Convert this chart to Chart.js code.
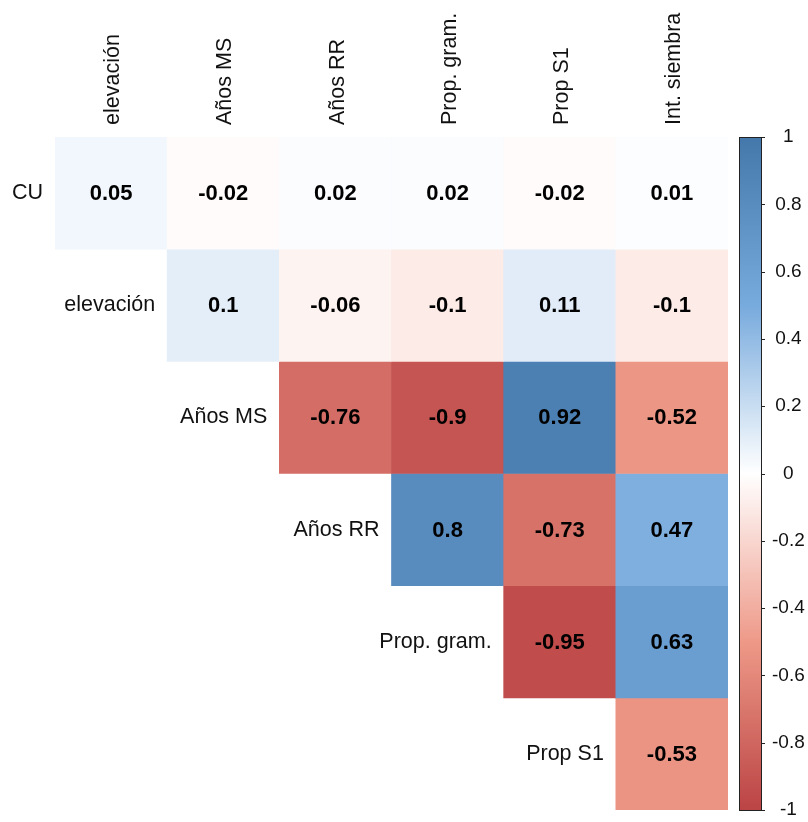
<!DOCTYPE html>
<html>
<head>
<meta charset="utf-8">
<script src="https://cdn.jsdelivr.net/npm/chart.js@4.4.1/dist/chart.umd.min.js"></script>
<style>
  html, body { margin: 0; padding: 0; background: #fff; }
  #wrap { width: 808px; height: 822px; position: relative; }
</style>
</head>
<body>
<div id="wrap"><canvas id="corrChart"></canvas></div>
<script>
// variables
const colLabels = ['elevación', 'Años MS', 'Años RR', 'Prop. gram.', 'Prop S1', 'Int. siembra'];
const rowLabels = ['CU', 'elevación', 'Años MS', 'Años RR', 'Prop. gram.', 'Prop S1'];

// upper triangle, one array per row (null = empty cell)
const rowCU         = [0.05, -0.02, 0.02, 0.02, -0.02, 0.01];
const rowElevacion  = [null, 0.1, -0.06, -0.1, 0.11, -0.1];
const rowAniosMS    = [null, null, -0.76, -0.9, 0.92, -0.52];
const rowAniosRR    = [null, null, null, 0.8, -0.73, 0.47];
const rowPropGram   = [null, null, null, null, -0.95, 0.63];
const rowPropS1     = [null, null, null, null, null, -0.53];
const rows = [rowCU, rowElevacion, rowAniosMS, rowAniosRR, rowPropGram, rowPropS1];

// colour scale
const colorStops = [-1, -0.5, 0, 0.5, 1];
const colorHex = ['#BB4444', '#EE9988', '#FFFFFF', '#77AADD', '#4477AA'];
const barTicks = [-1, -0.8, -0.6, -0.4, -0.2, 0, 0.2, 0.4, 0.6, 0.8, 1];

function hexToRgb(h) {
    return [parseInt(h.slice(1, 3), 16), parseInt(h.slice(3, 5), 16), parseInt(h.slice(5, 7), 16)];
}

function corrColor(v) {
    for (let k = 0; k < colorStops.length - 1; k++) {
        if (v <= colorStops[k + 1]) {
            const t = (v - colorStops[k]) / (colorStops[k + 1] - colorStops[k]);
            const a = hexToRgb(colorHex[k]), b = hexToRgb(colorHex[k + 1]);
            const c = a.map((x, i) => Math.round(x + (b[i] - x) * t));
            return `rgb(${c[0]}, ${c[1]}, ${c[2]})`;
        }
    }
    return colorHex[colorHex.length - 1];
}

const datasets = rows.map((vals, i) => ({
    label: rowLabels[i],
    data: vals.map(v => v === null ? null : [i, i + 1]),
    backgroundColor: vals.map(v => v === null ? 'transparent' : corrColor(v)),
    borderWidth: 0,
    barPercentage: 1,
    categoryPercentage: 1,
    grouped: false
}));

const cellText = {
    id: 'cellText',
    afterDatasetsDraw(chart) {
        const ctx = chart.ctx;
        const xs = chart.scales.x, ys = chart.scales.y;
        ctx.save();
        ctx.fillStyle = '#000';
        ctx.textAlign = 'center';
        ctx.textBaseline = 'middle';
        ctx.font = "bold 22px 'Liberation Sans', Arial, sans-serif";
        rows.forEach((vals, i) => {
            const meta = chart.getDatasetMeta(i);
            meta.data.forEach((el, j) => {
                if (vals[j] === null) return;
                const p = el.getProps(['x', 'y', 'base'], true);
                ctx.fillText(String(vals[j]), p.x, (p.y + p.base) / 2 + 1);
            });
        });
        // row labels next to the diagonal
        const cw = xs.getPixelForValue(1) - xs.getPixelForValue(0);
        ctx.fillStyle = '#111';
        ctx.font = "21.5px 'Liberation Sans', Arial, sans-serif";
        ctx.textAlign = 'right';
        rowLabels.forEach((lab, i) => {
            ctx.fillText(lab, xs.getPixelForValue(i) - cw / 2 - 12, ys.getPixelForValue(i + 0.5));
        });
        ctx.restore();
    },
    afterDraw(chart) {
        // colour bar
        const ctx = chart.ctx;
        const s = chart.scales.y2;
        const x0 = chart.chartArea.right + 11, w = 22;
        const top = s.getPixelForValue(1), bot = s.getPixelForValue(-1);
        const g = ctx.createLinearGradient(0, bot, 0, top);
        colorStops.forEach((v, k) => g.addColorStop((v + 1) / 2, colorHex[k]));
        ctx.save();
        ctx.fillStyle = g;
        ctx.fillRect(x0, top, w, bot - top);
        ctx.strokeStyle = '#222';
        ctx.lineWidth = 1;
        ctx.strokeRect(Math.round(x0) + 0.5, Math.round(top) + 0.5, w, Math.round(bot - top));
        barTicks.forEach(t => {
            const py = Math.round(s.getPixelForValue(t)) + 0.5;
            ctx.beginPath();
            ctx.moveTo(x0 + w, py);
            ctx.lineTo(x0 + w + 4, py);
            ctx.stroke();
        });
        ctx.restore();
    }
};

Chart.defaults.font.family = "'Liberation Sans', Arial, sans-serif";
Chart.defaults.color = '#000';

new Chart(document.getElementById('corrChart').getContext('2d'), {
    type: 'bar',
    data: { labels: colLabels, datasets: datasets },
    options: {
        responsive: true,
        maintainAspectRatio: false,
        animation: false,
        layout: { padding: { left: 55, right: 0, top: 0, bottom: 12 } },
        plugins: { legend: { display: false }, tooltip: { enabled: false } },
        scales: {
            x: {
                position: 'top',
                grid: { display: false, drawTicks: false },
                border: { display: false },
                ticks: { autoSkip: false, minRotation: 90, maxRotation: 90, padding: 12, labelOffset: 28, font: { size: 21.5 }, color: '#111' },
                afterFit: (scale) => { scale.height = 137; }
            },
            y: {
                display: false,
                min: 0,
                max: 6,
                reverse: true
            },
            y2: {
                type: 'linear',
                position: 'right',
                min: -1,
                max: 1,
                grid: { display: false, drawTicks: true, tickLength: 44 },
                border: { display: false },
                afterBuildTicks: (scale) => { scale.ticks = barTicks.map(v => ({ value: v })); },
                ticks: {
                    crossAlign: 'center',
                    padding: 0,
                    font: { size: 19 },
                    color: '#111',
                    callback: (v) => String(Math.round(v * 10) / 10)
                },
                afterFit: (scale) => { scale.width = 80; }
            }
        }
    },
    plugins: [cellText]
});
</script>
</body>
</html>
